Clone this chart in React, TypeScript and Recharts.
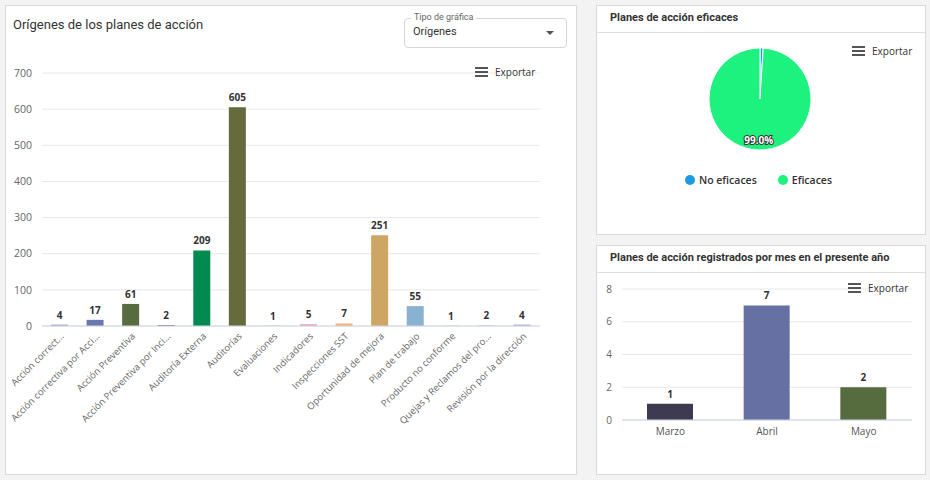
import React from 'react';
import { BarChart, Bar, XAxis, YAxis, CartesianGrid, Cell, LabelList, PieChart, Pie, Legend } from 'recharts';

const originCategories = [
  'Acción correct...',
  'Acción correctiva por Acci...',
  'Acción Preventiva',
  'Acción Preventiva por Inci...',
  'Auditoría Externa',
  'Auditorías',
  'Evaluaciones',
  'Indicadores',
  'Inspecciones SST',
  'Oportunidad de mejora',
  'Plan de trabajo',
  'Producto no conforme',
  'Quejas y Reclamos del pro...',
  'Revisión por la dirección',
];
const originValues = [4, 17, 61, 2, 209, 605, 1, 5, 7, 251, 55, 1, 2, 4];
const originColors = ['#a3a3c2', '#6b75b0', '#566b3e', '#3d3a52', '#008a4f', '#656b3c', '#b8b8c8', '#e6a2b8', '#f2b27a', '#cda664', '#88b2cf', '#c0c0cc', '#c8c8d2', '#ababca'];
const originTicks = [0, 100, 200, 300, 400, 500, 600, 700];

const pieNames = ['No eficaces', 'Eficaces'];
const pieValues = [1, 99];
const pieColors = ['#1a9be3', '#1ef27e'];

const monthNames = ['Marzo', 'Abril', 'Mayo'];
const monthValues = [1, 7, 2];
const monthColors = ['#3d3a52', '#6670a3', '#566b3e'];
const monthTicks = [0, 2, 4, 6, 8];

const originData = originCategories.map((name, i) => ({ name, value: originValues[i] }));
const pieData = pieNames.map((name, i) => ({ name, value: pieValues[i] }));
const monthData = monthNames.map((name, i) => ({ name, value: monthValues[i] }));

const chartFont = '"Open Sans", "DejaVu Sans", sans-serif';
const uiFont = 'Roboto, "Noto Sans", sans-serif';

const RotTick = (props: any) => {
  const { x, y, payload } = props;
  return (
    <g transform={`translate(${x + 2},${y})`}>
      <text x={0} y={0} dy={4} textAnchor="end" fill="#666" fontSize={9.5} fontFamily={chartFont} transform="rotate(-45)">
        {payload.value}
      </text>
    </g>
  );
};

const RAD = Math.PI / 180;
const pieLabel = (props: any) => {
  const { cx, cy, midAngle, outerRadius, percent, index } = props;
  if (index !== 1) return null;
  const r = outerRadius * 0.8;
  const x = cx + r * Math.cos(-midAngle * RAD);
  const y = cy + r * Math.sin(-midAngle * RAD);
  return (
    <text x={x} y={y} textAnchor="middle" dominantBaseline="central" fill="#fff" stroke="#333" strokeWidth={2}
      paintOrder="stroke" fontSize={10} fontWeight={700} fontFamily={chartFont}>
      {(percent * 100).toFixed(1) + '%'}
    </text>
  );
};

const Exportar = ({ left, top }: { left: number; top: number }) => (
  <div style={{ position: 'absolute', left, top, display: 'flex', alignItems: 'center', height: 12 }}>
    <div style={{ width: 13, height: 10, display: 'flex', flexDirection: 'column', justifyContent: 'space-between', marginRight: 7 }}>
      <div style={{ height: 2, background: '#555' }} />
      <div style={{ height: 2, background: '#555' }} />
      <div style={{ height: 2, background: '#555' }} />
    </div>
    <span style={{ fontFamily: chartFont, fontSize: 10, color: '#333', lineHeight: '12px' }}>Exportar</span>
  </div>
);

const panel = (left: number, top: number, width: number, height: number): React.CSSProperties => ({
  position: 'absolute', left, top, width, height, background: '#fff', border: '1px solid #d9d9d9', boxSizing: 'border-box',
});

export default function App() {
  return (
    <div style={{ position: 'absolute', left: 0, top: 0, width: 930, height: 480, background: '#f3f3f3', overflow: 'hidden' }}>
      <div style={panel(5, 5, 572, 470)} />
      <div style={panel(596, 5, 330, 230)}>
        <div style={{ position: 'absolute', left: 0, top: 26, width: '100%', height: 1, background: '#dcdcdc' }} />
        <div style={{ position: 'absolute', left: 13, top: 5, fontFamily: uiFont, fontWeight: 700, fontSize: 11, color: '#333' }}>Planes de acción eficaces</div>
      </div>
      <div style={panel(596, 245, 330, 230)}>
        <div style={{ position: 'absolute', left: 0, top: 26, width: '100%', height: 1, background: '#dcdcdc' }} />
        <div style={{ position: 'absolute', left: 13, top: 5, fontFamily: uiFont, fontWeight: 700, fontSize: 11, color: '#333' }}>Planes de acción registrados por mes en el presente año</div>
      </div>

      <div style={{ position: 'absolute', left: 13, top: 17, fontFamily: uiFont, fontSize: 13, color: '#333' }}>Orígenes de los planes de acción</div>

      <div style={{ position: 'absolute', left: 404, top: 18, width: 163, height: 30, border: '1px solid #d6d6d6', borderRadius: 4, boxSizing: 'border-box' }}>
        <div style={{ position: 'absolute', left: 6, top: -7, padding: '0 3px', background: '#fff', fontFamily: uiFont, fontSize: 9, color: '#666', lineHeight: '11px' }}>Tipo de gráfica</div>
        <div style={{ position: 'absolute', left: 8, top: 6, fontFamily: uiFont, fontSize: 11, color: '#333', lineHeight: '14px' }}>Orígenes</div>
        <div style={{ position: 'absolute', left: 141, top: 12, width: 0, height: 0, borderLeft: '4px solid transparent', borderRight: '4px solid transparent', borderTop: '4px solid #555' }} />
      </div>

      <div style={{ position: 'absolute', left: 0, top: 0 }}>
        <BarChart width={580} height={470} data={originData} margin={{ top: 73, right: 40, left: 0, bottom: 4 }}>
          <CartesianGrid vertical={false} stroke="#e8e8e8" />
          <YAxis width={42} domain={[0, 700]} ticks={originTicks} tickLine={false} axisLine={false} tickMargin={4}
            tick={{ fill: '#666', fontSize: 10.5, fontFamily: chartFont }} />
          <XAxis dataKey="name" interval={0} height={140} tickLine={false} stroke="#ccd6eb" tick={<RotTick />} />
          <Bar dataKey="value" barSize={17} isAnimationActive={false}>
            {originData.map((d, i) => <Cell key={d.name} fill={originColors[i]} />)}
            <LabelList dataKey="value" position="top" offset={6} fill="#333" fontSize={10} fontWeight={700} fontFamily={chartFont} />
          </Bar>
        </BarChart>
      </div>
      <Exportar left={475} top={66} />

      <div style={{ position: 'absolute', left: 596, top: 33 }}>
        <PieChart width={329} height={200} margin={{ top: 0, right: 0, bottom: 0, left: 0 }}>
          <Pie data={pieData} dataKey="value" nameKey="name" cx={164} cy={66} outerRadius={51} startAngle={90} endAngle={-270}
            stroke="#fff" strokeWidth={1} labelLine={false} label={pieLabel} isAnimationActive={false}>
            {pieData.map((d, i) => <Cell key={d.name} fill={pieColors[i]} />)}
          </Pie>
          <Legend iconType="circle" iconSize={10} align="center" verticalAlign="bottom"
            itemSorter={(item: any) => pieNames.indexOf(item.value)}
            wrapperStyle={{ top: 137, bottom: 'auto', left: 3, width: 329 }}
            formatter={(value: any) => (
              <span style={{ color: '#333', fontWeight: 600, fontSize: 10.5, fontFamily: chartFont, marginRight: value === pieNames[0] ? 11 : 0 }}>{value}</span>
            )} />
        </PieChart>
      </div>
      <Exportar left={852} top={45} />

      <div style={{ position: 'absolute', left: 596, top: 273 }}>
        <BarChart width={329} height={200} data={monthData} margin={{ top: 16, right: 13, left: 0, bottom: 23 }}>
          <CartesianGrid vertical={false} stroke="#e8e8e8" />
          <YAxis width={26} domain={[0, 8]} ticks={monthTicks} tickLine={false} axisLine={false} tickMargin={4}
            tick={{ fill: '#666', fontSize: 10, fontFamily: chartFont }} />
          <XAxis dataKey="name" height={30} tickLine={false} stroke="#ccd6eb" tick={{ fill: '#555', fontSize: 10, fontFamily: chartFont }} />
          <Bar dataKey="value" barSize={46} isAnimationActive={false}>
            {monthData.map((d, i) => <Cell key={d.name} fill={monthColors[i]} />)}
            <LabelList dataKey="value" position="top" offset={6} fill="#333" fontSize={10} fontWeight={700} fontFamily={chartFont} />
          </Bar>
        </BarChart>
      </div>
      <Exportar left={848} top={282} />
    </div>
  );
}
